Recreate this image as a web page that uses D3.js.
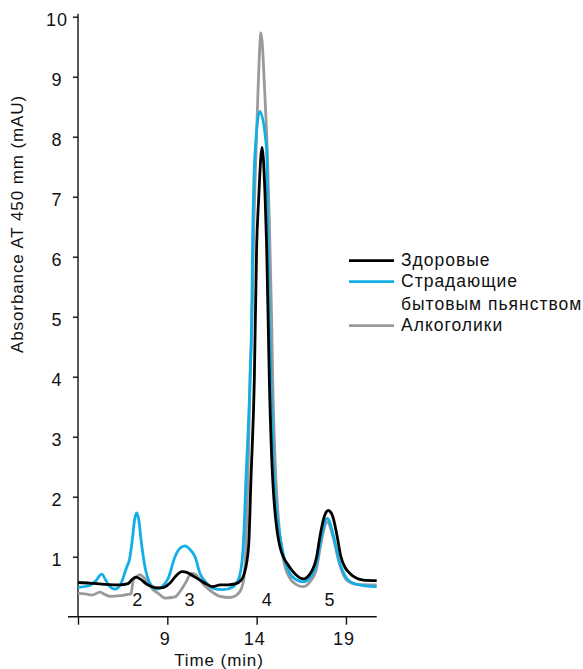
<!DOCTYPE html>
<html>
    <head>
        <meta charset="utf-8">
        <title></title>
        <script src="https://d3js.org/d3.v7.min.js"></script>
        <style>
            body { margin: 0; background: #fff; }
            svg { display: block; }
            text {
                font-family: "Liberation Sans", Arial, Helvetica, sans-serif;
                font-size: 17px;
                letter-spacing: 0.9px;
                fill: #111;
            }
            .ticklabel { font-size: 18px; letter-spacing: 1px; }
            .legendtext { font-size: 17.5px; letter-spacing: 1px; }
            .axis path, .axis line { stroke: #111; stroke-width: 1.4px; }
            .trace { fill: none; stroke-width: 2.8px; stroke-linejoin: round; }
        </style>
    </head>
    <body>
        <svg width="583" height="669"></svg>
        <script>
            // chromatogram traces, time in min, absorbance in mAU
            var healthyTime = [4.0, 4.67, 5.5, 6.35, 6.8, 7.02, 7.25, 7.47, 7.81, 8.14, 8.48, 8.81, 9.15, 9.48, 9.82,
                10.15, 10.49, 10.83, 11.16, 11.55, 11.95, 12.39, 12.84, 13.1, 13.31, 13.55, 13.68, 13.87, 14.0, 14.11,
                14.30, 14.48, 14.56, 14.71, 14.90, 15.3, 15.84, 16.2, 16.61, 17.0, 17.36, 17.55, 17.8, 18.01, 18.25,
                18.5, 18.7, 18.95, 19.22, 19.6, 19.97, 20.72];
            var healthyAbs = [0.57, 0.56, 0.54, 0.53, 0.55, 0.62, 0.66, 0.63, 0.55, 0.50, 0.48, 0.49, 0.56, 0.68, 0.75,
                0.73, 0.67, 0.61, 0.55, 0.50, 0.53, 0.53, 0.55, 0.60, 0.72, 1.17, 2.28, 3.95, 6.17, 6.94,
                7.82, 6.94, 6.17, 3.95, 2.28, 1.17, 0.83, 0.70, 0.63, 0.72, 1.0, 1.35, 1.68, 1.77, 1.68,
                1.35, 1.02, 0.82, 0.72, 0.64, 0.61, 0.60];

            var drinkersTime = [4.0, 4.67, 5.0, 5.33, 5.57, 5.79, 6.07, 6.35, 6.73, 6.88, 7.04, 7.16, 7.28, 7.41, 7.53,
                7.75, 8.03, 8.40, 8.70, 9.05, 9.43, 9.71, 9.99, 10.27, 10.55, 10.83, 11.20, 11.57, 12.13, 12.69,
                12.84, 13.05, 13.25, 13.40, 13.63, 13.72, 13.78, 13.92, 14.18, 14.56, 14.63, 14.71, 14.80, 14.98,
                15.45, 15.86, 16.2, 16.61, 16.98, 17.36, 17.6, 17.95, 18.3, 18.6, 19.04, 19.6, 20.72];
            var drinkersAbs = [0.49, 0.52, 0.60, 0.71, 0.60, 0.50, 0.46, 0.52, 0.83, 0.95, 1.28, 1.60, 1.73, 1.60, 1.28,
                0.83, 0.56, 0.46, 0.50, 0.64, 1.0, 1.14, 1.18, 1.12, 1.0, 0.72, 0.56, 0.47, 0.45, 0.50,
                0.55, 0.68, 1.17, 2.28, 3.95, 4.95, 6.39, 7.78, 8.42, 7.78, 6.39, 4.95, 3.95, 2.28,
                1.10, 0.72, 0.62, 0.58, 0.65, 0.89, 1.30, 1.64, 1.35, 0.95, 0.64, 0.54, 0.50];

            var alcoholicsTime = [4.0, 4.39, 4.78, 5.23, 5.51, 5.79, 6.35, 6.74, 6.97, 7.09, 7.25, 7.47, 7.69, 7.93, 8.20,
                8.49, 8.87, 9.43, 9.71, 9.99, 10.36, 10.60, 10.83, 11.11, 11.39, 11.95, 12.51, 12.88, 13.15, 13.29,
                13.40, 13.51, 13.63, 13.74, 13.85, 13.96, 14.07, 14.24, 14.46, 14.60, 14.71, 14.84, 14.90, 15.08,
                15.5, 15.86, 16.2, 16.61, 16.98, 17.36, 17.6, 17.95, 18.3, 18.6, 19.04, 19.6, 20.72];
            var alcoholicsAbs = [0.39, 0.38, 0.36, 0.41, 0.37, 0.34, 0.35, 0.37, 0.38, 0.60, 0.66, 0.70, 0.65, 0.56, 0.45,
                0.39, 0.31, 0.33, 0.42, 0.55, 0.72, 0.70, 0.61, 0.51, 0.44, 0.34, 0.32, 0.36, 0.47, 0.65,
                1.17, 2.28, 3.95, 4.95, 6.61, 7.72, 8.70, 9.73, 8.70, 7.72, 6.61, 4.95, 3.95, 2.28,
                0.95, 0.64, 0.54, 0.50, 0.58, 0.81, 1.22, 1.58, 1.30, 0.92, 0.61, 0.54, 0.53];

            var yTicks = [1, 2, 3, 4, 5, 6, 7, 8, 9, 10];
            var xTicks = [4, 9, 14, 19];
            var peakLabels = ["2", "3", "4", "5"];
            var peakTimes = [7.35, 10.27, 14.6, 18.1];
            var legendNames = ["Здоровые", "Страдающие\nбытовым пьянством", "Алкоголики"];
            var colors = ["#000000", "#13aee6", "#9a9a9c"];

            var svg = d3.select("svg");

            var x = d3.scaleLinear().domain([4, 20.72]).range([78, 376.7]);
            var y = d3.scaleLinear().domain([0, 10]).range([616.7, 16.7]);

            // axes
            var gy = svg.append("g")
                .attr("class", "axis")
                .attr("transform", "translate(78,0)")
                .call(d3.axisLeft(y).tickValues(yTicks).tickSize(5).tickSizeOuter(0));
            gy.select(".domain").remove();
            gy.selectAll("text").remove();
            svg.append("line")
                .attr("x1", 78).attr("x2", 78)
                .attr("y1", y(10) - 3).attr("y2", y(0))
                .attr("stroke", "#111").attr("stroke-width", 1.4);
            svg.append("g").selectAll("text")
                .data(yTicks)
                .enter().append("text")
                .attr("class", "ticklabel")
                .attr("x", 57)
                .attr("y", function(d) { return y(d) + 9; })
                .attr("text-anchor", "middle")
                .text(function(d) { return d; });

            var gx = svg.append("g")
                .attr("class", "axis")
                .attr("transform", "translate(0," + y(0) + ")")
                .call(d3.axisBottom(x).tickValues(xTicks).tickSize(8).tickFormat(""));
            gx.select(".domain").remove();
            svg.append("line")
                .attr("x1", 68).attr("x2", x(20.72))
                .attr("y1", y(0)).attr("y2", y(0))
                .attr("stroke", "#111").attr("stroke-width", 1.4);
            svg.append("g").selectAll("text")
                .data(xTicks.slice(1))
                .enter().append("text")
                .attr("class", "ticklabel")
                .attr("x", function(d) { return x(d) - 2; })
                .attr("y", 645)
                .attr("text-anchor", "middle")
                .text(function(d) { return d; });

            // axis titles
            svg.append("text")
                .attr("transform", "translate(23,224) rotate(-90)")
                .attr("text-anchor", "middle")
                .text("Absorbance AT 450 mm (mAU)");
            svg.append("text")
                .attr("x", 219)
                .attr("y", 666)
                .attr("text-anchor", "middle")
                .text("Time (min)");

            // traces (grey underneath, black on top)
            var line = d3.line()
                .x(function(d) { return x(d[0]); })
                .y(function(d) { return y(d[1]); })
                .curve(d3.curveMonotoneX);

            var traces = [
                { data: d3.zip(alcoholicsTime, alcoholicsAbs), color: colors[2] },
                { data: d3.zip(drinkersTime, drinkersAbs), color: colors[1] },
                { data: d3.zip(healthyTime, healthyAbs), color: colors[0] }
            ];
            svg.append("g").selectAll("path")
                .data(traces)
                .enter().append("path")
                .attr("class", "trace")
                .attr("stroke", function(d) { return d.color; })
                .attr("d", function(d) { return line(d.data); });

            // peak numbers
            svg.append("g").selectAll("text")
                .data(peakLabels)
                .enter().append("text")
                .attr("class", "ticklabel")
                .attr("x", function(d, i) { return x(peakTimes[i]); })
                .attr("y", 606)
                .attr("text-anchor", "middle")
                .text(function(d) { return d; });

            // legend
            var legendY = [260.7, 281.7, 325.7];
            var legend = svg.append("g");
            legendNames.forEach(function(name, i) {
                legend.append("line")
                    .attr("x1", 349).attr("x2", 394)
                    .attr("y1", legendY[i]).attr("y2", legendY[i])
                    .attr("stroke", colors[i]).attr("stroke-width", 2.8);
                name.split("\n").forEach(function(part, j) {
                    legend.append("text")
                        .attr("class", "legendtext")
                        .attr("x", 401)
                        .attr("y", legendY[i] + 5.5 + j * 22.5)
                        .text(part);
                });
            });
        </script>
    </body>
</html>
